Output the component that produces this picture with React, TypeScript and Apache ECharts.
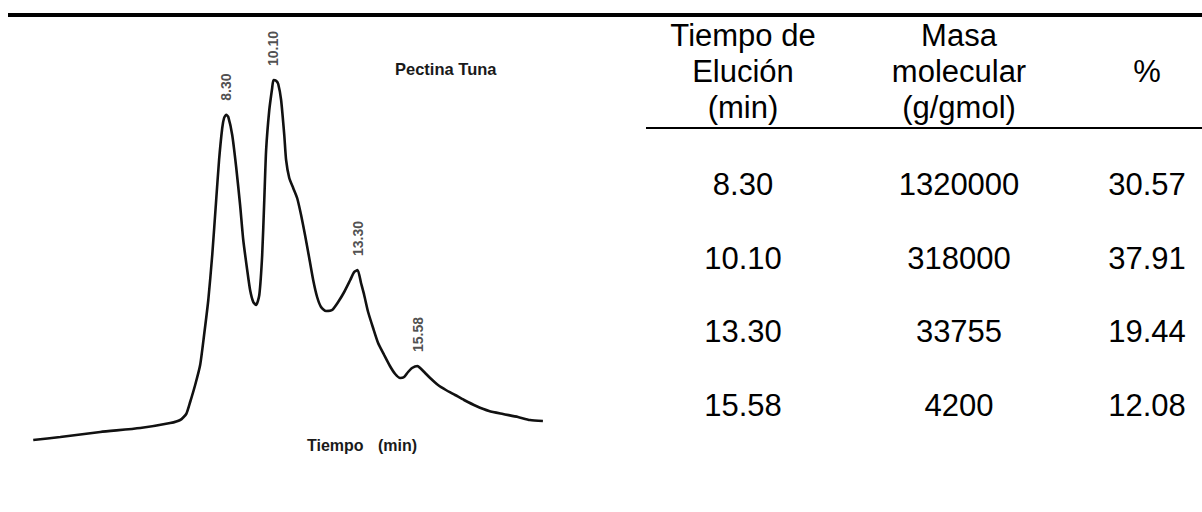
import React, { useEffect, useRef } from "react";
import * as echarts from "echarts";

// Chromatogram trace of "Pectina Tuna": elution time (min) vs detector response
const traceTime = [
  0.96, 1.99, 3.51, 5.03, 6.17, 6.55, 6.78, 6.93, 7.12, 7.31, 7.46, 7.62, 7.77,
  7.92, 8.03, 8.15, 8.22, 8.3, 8.38, 8.53, 8.68, 8.83, 8.95, 9.1, 9.21, 9.33,
  9.44, 9.56, 9.67, 9.75, 9.82, 9.94, 10.05, 10.1, 10.2, 10.28, 10.39, 10.51,
  10.58, 10.7, 10.85, 11.0, 11.15, 11.3, 11.46, 11.61, 11.76, 11.91, 12.1,
  12.33, 12.56, 12.79, 13.02, 13.17, 13.3, 13.43, 13.55, 13.7, 13.89, 14.08,
  14.31, 14.53, 14.73, 14.92, 15.07, 15.22, 15.37, 15.58, 15.68, 15.87, 16.06,
  16.36, 16.66, 17.01, 17.35, 17.81, 18.3, 18.83, 19.4, 19.86, 20.35,
];
const traceResponse = [
  5.0, 5.75, 7.0, 8.0, 9.25, 10.0, 11.5, 14.5, 18.75, 23.75, 31.25, 40.0, 51.25,
  65.0, 75.0, 83.0, 85.5, 86.3, 85.8, 81.25, 73.25, 63.75, 55.0, 47.5, 42.5,
  39.5, 38.75, 41.25, 51.25, 65.0, 77.5, 87.5, 93.0, 95.0, 94.8, 94.0, 90.0,
  81.25, 75.0, 70.5, 68.0, 65.5, 61.25, 56.25, 50.5, 45.0, 40.75, 38.25, 37.25,
  37.5, 39.5, 42.0, 45.0, 47.0, 47.5, 44.25, 41.25, 37.0, 33.0, 29.25, 26.25,
  23.5, 21.5, 20.5, 20.75, 22.0, 23.0, 23.5, 23.0, 21.75, 20.5, 18.75, 17.5,
  16.25, 15.0, 13.5, 12.25, 11.5, 10.75, 10.0, 9.75,
];

// Identified peaks (elution time and response at the apex)
const peakTimes = [8.3, 10.1, 13.3, 15.58];
const peakResponse = [86.3, 95.0, 47.5, 23.5];

// Table of results
const tableHeaders = [
  ["Tiempo de", "Elución", "(min)"],
  ["Masa", "molecular", "(g/gmol)"],
  ["%"],
];
const elutionTimes = ["8.30", "10.10", "13.30", "15.58"];
const molecularMass = [1320000, 318000, 33755, 4200];
const percentages = ["30.57", "37.91", "19.44", "12.08"];

const FONT = '"Liberation Sans", Arial, Helvetica, sans-serif';

export default function App() {
  const ref = useRef<HTMLDivElement | null>(null);

  useEffect(() => {
    if (!ref.current) return;
    const chart = echarts.init(ref.current, undefined, { renderer: "svg" });

    const colX = [743, 959, 1147];
    const headerRowY = [35, 71, 107];
    const bodyRowY = [184, 258, 331, 405];
    const tableFont = `31px ${FONT}`;

    const graphics: any[] = [
      // thick top rule
      { type: "rect", shape: { x: 8, y: 13, width: 1194, height: 4 }, style: { fill: "#000" } },
      // header underline
      { type: "rect", shape: { x: 646, y: 127, width: 556, height: 2 }, style: { fill: "#000" } },
      {
        type: "text",
        x: 395,
        y: 69,
        style: {
          text: "Pectina Tuna",
          font: `bold 16.5px ${FONT}`,
          fill: "#1a1a1a",
          textAlign: "left",
          textVerticalAlign: "middle",
        },
      },
      {
        type: "text",
        x: 307,
        y: 445,
        style: {
          text: "Tiempo",
          font: `bold 16px ${FONT}`,
          fill: "#1a1a1a",
          textAlign: "left",
          textVerticalAlign: "middle",
        },
      },
      {
        type: "text",
        x: 378,
        y: 445,
        style: {
          text: "(min)",
          font: `bold 16px ${FONT}`,
          fill: "#1a1a1a",
          textAlign: "left",
          textVerticalAlign: "middle",
        },
      },
    ];

    tableHeaders.forEach((lines, c) => {
      const ys = lines.length === 1 ? [headerRowY[1]] : headerRowY;
      lines.forEach((t, i) => {
        graphics.push({
          type: "text",
          x: colX[c],
          y: ys[i],
          style: { text: t, font: tableFont, fill: "#000", textAlign: "center", textVerticalAlign: "middle" },
        });
      });
    });

    const bodyCols = [elutionTimes, molecularMass.map((m) => String(m)), percentages];
    bodyCols.forEach((col, c) => {
      col.forEach((t, r) => {
        graphics.push({
          type: "text",
          x: colX[c],
          y: bodyRowY[r],
          style: { text: t, font: tableFont, fill: "#000", textAlign: "center", textVerticalAlign: "middle" },
        });
      });
    });

    chart.setOption({
      animation: false,
      backgroundColor: "#fff",
      grid: { left: 8, top: 60, width: 552, height: 400 },
      xAxis: { type: "value", min: 0, max: 21, show: false },
      yAxis: { type: "value", min: 0, max: 100, show: false },
      series: [
        {
          type: "line",
          data: traceTime.map((t, i) => [t, traceResponse[i]]),
          showSymbol: false,
          smooth: 0.2,
          lineStyle: { color: "#111", width: 2.6 },
          silent: true,
          z: 2,
        },
        {
          type: "scatter",
          data: peakTimes.map((t, i) => [t, peakResponse[i]]),
          symbolSize: 0,
          silent: true,
          label: {
            show: true,
            position: "top",
            distance: 14,
            rotate: 90,
            align: "left",
            verticalAlign: "middle",
            formatter: (p: any) => p.value[0].toFixed(2),
            fontFamily: FONT,
            fontWeight: "bold",
            fontSize: 14,
            color: "#222",
          },
          z: 3,
        },
      ],
      graphic: graphics,
    });

    return () => chart.dispose();
  }, []);

  return (
    <div
      ref={ref}
      style={{ position: "fixed", left: 0, top: 0, width: 1202, height: 512, background: "#fff" }}
    />
  );
}
